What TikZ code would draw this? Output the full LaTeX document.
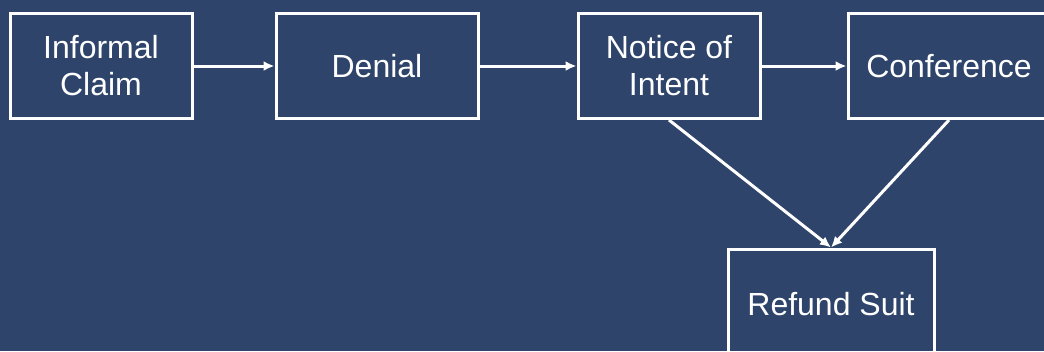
\documentclass[tikz,border=0pt]{standalone}
\usepackage{fontspec}
\setmainfont{Liberation Sans}
\usetikzlibrary{arrows.meta}
\definecolor{bgblue}{RGB}{46,68,106}
\tikzset{
  box/.style={draw=white, line width=3pt, rectangle, inner sep=0pt, text=white,
    align=center, font=\fontsize{32}{37}\selectfont},
  flow/.style={draw=white, line width=3pt, -{Latex[length=11pt,width=10pt]}}
}
\begin{document}
\begin{tikzpicture}[x=1pt,y=-1pt]
\useasboundingbox (0,0) rectangle (1044,351);
\fill[bgblue] (0,0) rectangle (1044,351);
\clip (0,0) rectangle (1044,351);
\node[box, minimum width=182pt, minimum height=105pt] (n1) at (101,66) {Informal\\Claim};
\node[box, minimum width=202pt, minimum height=105pt] (n2) at (377,66) {Denial};
\node[box, minimum width=182pt, minimum height=105pt] (n3) at (669,66) {Notice of\\Intent};
\node[box, minimum width=202pt, minimum height=105pt] (n4) at (949,66) {Conference};
\node[box, minimum width=206pt, minimum height=110pt] (n5) at (831,304) {Refund Suit};
\draw[flow] (n1) -- (n2);
\draw[flow] (n2) -- (n3);
\draw[flow] (n3) -- (n4);
\draw[flow] (n3.south) -- (n5.north);
\draw[flow] (n4.south) -- (n5.north);
\end{tikzpicture}
\end{document}
